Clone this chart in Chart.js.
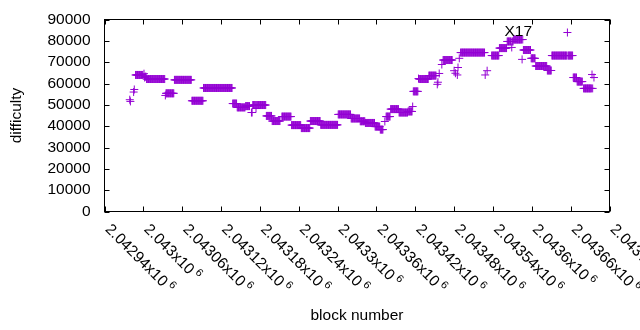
<!DOCTYPE html>
<html>
<head>
<meta charset="utf-8">
<script src="https://cdn.jsdelivr.net/npm/chart.js@4.4.1/dist/chart.umd.min.js"></script>
<style>
    body { margin: 0; background: #fff; }
    canvas { display: block; }
</style>
</head>
<body>
<canvas id="chart" width="640" height="330"></canvas>
<script>
// 難易度の区間データ（ブロック範囲ごとの値）
const runStart = [
    2042979, 2042980, 2042985, 2042986, 2042988, 2043001, 2043002, 2043003, 2043005, 2043034,
    2043035, 2043048, 2043075, 2043093, 2043138, 2043145, 2043158, 2043167, 2043169, 2043174,
    2043175, 2043190, 2043199, 2043214, 2043229, 2043244, 2043258, 2043274, 2043301, 2043321,
    2043335, 2043343, 2043358, 2043366, 2043373, 2043375, 2043382, 2043395, 2043409, 2043416,
    2043417, 2043425, 2043426, 2043441, 2043454, 2043455, 2043457, 2043461, 2043463, 2043480,
    2043482, 2043485, 2043486, 2043488, 2043490, 2043528, 2043531, 2043538, 2043550, 2043562,
    2043569, 2043570, 2043572, 2043585, 2043586, 2043587, 2043599, 2043606, 2043624, 2043631,
    2043655, 2043656, 2043664, 2043670, 2043680, 2043693, 2043694, 2043696
];
const runEnd = [
    2042979, 2042980, 2042985, 2042986, 2042999, 2043001, 2043002, 2043004, 2043033, 2043034,
    2043047, 2043074, 2043092, 2043137, 2043144, 2043157, 2043164, 2043168, 2043173, 2043174,
    2043189, 2043198, 2043211, 2043228, 2043243, 2043257, 2043273, 2043300, 2043320, 2043334,
    2043342, 2043357, 2043365, 2043370, 2043373, 2043381, 2043394, 2043408, 2043415, 2043416,
    2043424, 2043425, 2043440, 2043452, 2043454, 2043455, 2043457, 2043461, 2043477, 2043480,
    2043482, 2043485, 2043486, 2043488, 2043527, 2043528, 2043531, 2043549, 2043561, 2043568,
    2043569, 2043571, 2043584, 2043585, 2043586, 2043598, 2043605, 2043623, 2043630, 2043654,
    2043655, 2043663, 2043669, 2043678, 2043692, 2043693, 2043694, 2043696
];
const runDifficulty = [
    52400, 51600, 56000, 57200, 64000, 64600, 62800, 63200, 62100, 54400,
    55400, 61700, 51900, 57900, 50600, 48800, 49400, 46400, 49900, 48300,
    49900, 44800, 42400, 44500, 40500, 39100, 42400, 40600, 45500, 43600,
    42300, 41500, 39800, 38400, 42200, 44500, 48000, 46400, 46900, 49200,
    56300, 62300, 62100, 63700, 59600, 60600, 64700, 68900, 71000, 66000,
    64800, 64000, 67500, 71800, 74500, 64000, 66000, 73100, 76600, 79700,
    76900, 79700, 80600, 71300, 80600, 75700, 71800, 68200, 66100, 73100,
    83900, 73100, 62800, 60900, 57700, 64200, 57700, 62800
];

// 軸の目盛り
const xTicks = [2042940, 2043000, 2043060, 2043120, 2043180, 2043240, 2043300,
    2043360, 2043420, 2043480, 2043540, 2043600, 2043660, 2043720];
const yTicks = [0, 10000, 20000, 30000, 40000, 50000, 60000, 70000, 80000, 90000];

// 注記ラベル
const noteText = 'X17';
const noteBlock = 2043579;
const noteValue = 84100;

const FONT = '"Liberation Sans", Arial, sans-serif';
const COLOR = '#9400d3';

// ブロックごとの点に展開
function buildPoints() {
    const pts = [];
    runStart.forEach((s, i) => {
        for (let b = s; b <= runEnd[i]; b++) {
            pts.push({ x: b, y: runDifficulty[i] });
        }
    });
    return pts;
}

// 枠・内向き目盛り・斜めのx軸ラベル・注記
const framePlugin = {
    id: 'frame',
    afterDraw(chart) {
        const { ctx, chartArea: a, scales: { x, y } } = chart;
        const tl = 5;
        ctx.save();
        ctx.strokeStyle = '#000';
        ctx.lineWidth = 1;
        ctx.strokeRect(a.left, a.top, a.right - a.left, a.bottom - a.top);
        ctx.beginPath();
        xTicks.forEach(v => {
            const px = Math.round(x.getPixelForValue(v)) + 0.5;
            ctx.moveTo(px, a.bottom); ctx.lineTo(px, a.bottom - tl);
            ctx.moveTo(px, a.top); ctx.lineTo(px, a.top + tl);
        });
        yTicks.forEach(v => {
            const py = Math.round(y.getPixelForValue(v)) + 0.5;
            ctx.moveTo(a.left, py); ctx.lineTo(a.left + tl, py);
            ctx.moveTo(a.right, py); ctx.lineTo(a.right - tl, py);
        });
        ctx.stroke();

        // x軸ラベル（右下がり45度）
        ctx.fillStyle = '#000';
        ctx.textAlign = 'left';
        ctx.textBaseline = 'alphabetic';
        xTicks.forEach(v => {
            const px = x.getPixelForValue(v);
            const mant = parseFloat((v / 1e6).toPrecision(6)) + 'x10';
            ctx.save();
            ctx.translate(px, a.bottom + 18.5);
            ctx.rotate(Math.PI / 4);
            ctx.font = '15.5px ' + FONT;
            ctx.fillText(mant, 0, 0);
            const w = ctx.measureText(mant).width;
            ctx.font = '11px ' + FONT;
            ctx.fillText('6', w + 3, -6);
            ctx.restore();
        });

        // 注記
        ctx.font = '15.5px ' + FONT;
        ctx.textAlign = 'center';
        ctx.textBaseline = 'middle';
        ctx.fillText(noteText, x.getPixelForValue(noteBlock), y.getPixelForValue(noteValue));
        ctx.restore();
    }
};

function createChart() {
    const ctx = document.getElementById('chart').getContext('2d');
    const font = { family: FONT, size: 15.5 };

    new Chart(ctx, {
        type: 'scatter',
        data: {
            datasets: [{
                data: buildPoints(),
                pointStyle: 'cross',
                pointRadius: 4,
                pointHoverRadius: 4,
                borderColor: COLOR,
                backgroundColor: COLOR,
                borderWidth: 1
            }]
        },
        options: {
            responsive: false,
            animation: false,
            events: [],
            layout: { padding: { top: 19.5, right: 30.5, left: 0, bottom: 4 } },
            plugins: {
                legend: { display: false },
                tooltip: { enabled: false }
            },
            scales: {
                x: {
                    type: 'linear',
                    min: xTicks[0],
                    max: xTicks[xTicks.length - 1],
                    ticks: { display: false },
                    grid: { display: false, drawTicks: false },
                    border: { display: false },
                    title: {
                        display: true,
                        text: 'block number',
                        color: '#000',
                        font: font,
                        padding: { top: 0, bottom: 1 }
                    },
                    afterFit: s => { s.height = 114.5; }
                },
                y: {
                    min: 0,
                    max: 90000,
                    afterBuildTicks: s => { s.ticks = yTicks.map(v => ({ value: v })); },
                    ticks: {
                        color: '#000',
                        font: font,
                        padding: 14,
                        autoSkip: false,
                        callback: v => String(v)
                    },
                    grid: { display: false, drawTicks: false },
                    border: { display: false },
                    title: {
                        display: true,
                        text: 'difficulty',
                        color: '#000',
                        font: font,
                        padding: { top: 7, bottom: 0 }
                    },
                    afterFit: s => {
                        s.width = 104.5;
                        s.paddingTop = 0;
                        s.paddingBottom = 0;
                    }
                }
            }
        },
        plugins: [framePlugin]
    });
}

createChart();
</script>
</body>
</html>
